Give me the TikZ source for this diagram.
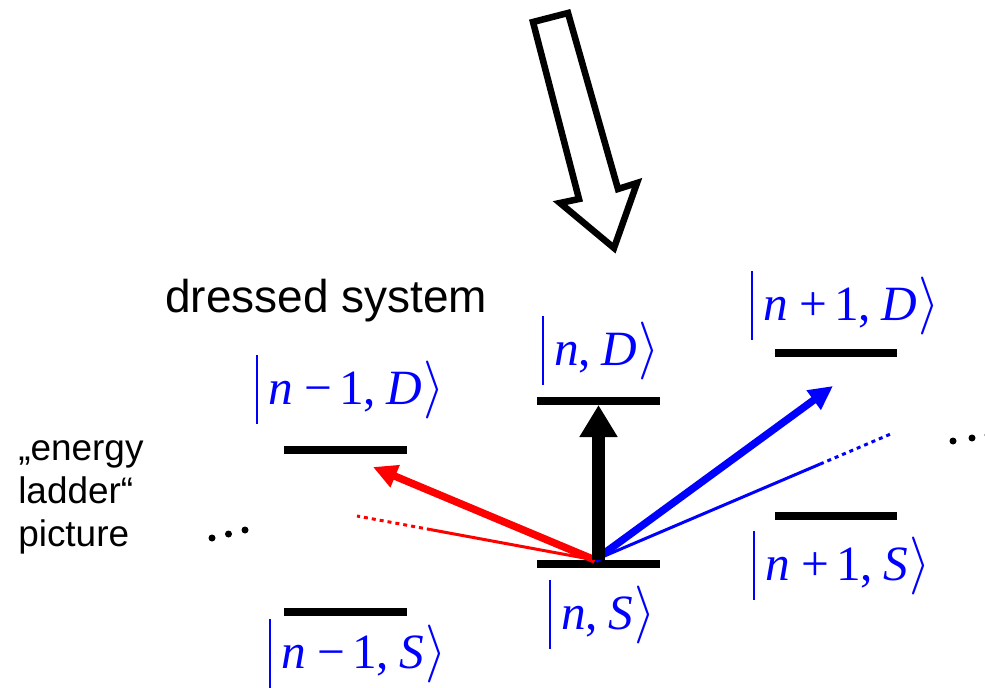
\RequirePackage{fix-cm}
\documentclass[tikz,border=0pt]{standalone}
\usepackage{graphicx}
\usepackage{fontspec}
\setmainfont{Liberation Serif}
\newfontfamily\arialf{Liberation Sans}
\usetikzlibrary{arrows.meta,calc}
\delimiterfactor=1000
\delimitershortfall=0pt
\newcommand\kbar{\rule[-15pt]{1.5pt}{51.75pt}}
\newcommand\kang{\scalebox{1.1}[1.175]{$\left.\vcenter{\hrule height 44pt width 0pt}\right\rangle$}}
\newcommand\kt[1]{{\fontsize{37}{42}\selectfont\kbar\hspace{0.2em}#1\hspace{0em}\kang}}
\newcommand\op[1]{\hspace{0.24em}#1\hspace{0.14em}}
\newcommand\cm{,\hspace{0.2em}}
\begin{document}
\begin{tikzpicture}[x=0.75pt,y=-0.75pt,
  levelbar/.style={fill=black,inner sep=0pt,minimum width=92pt,minimum height=5.6pt},
  ketlabel/.style={anchor=base west,inner sep=0pt,text=blue},
  sanstext/.style={anchor=base west,inner sep=0pt,font=\arialf\fontsize{27.7}{32}\selectfont},
  dotmark/.style={fill=black}
]
\useasboundingbox (0,0) rectangle (985,688);
% hollow arrow
\draw[line width=4.9pt,line join=miter,fill=white]
  (533,22) -- (568,13) -- (618,189) -- (637,183) -- (614,248) -- (560,203) -- (579,199) -- cycle;
% levels
\node[levelbar] (m1D) at (345.5,450) {};
\node[levelbar] (m1S) at (345.5,612) {};
\node[levelbar] (nD) at (598.5,401) {};
\node[levelbar] (nS) at (598.5,564) {};
\node[levelbar] (p1D) at (836,353) {};
\node[levelbar] (p1S) at (836,516) {};
% coordinates for fan
\coordinate (o) at (595,560);
\coordinate (rt) at (373,467);
\coordinate (rd) at (357,516);
\coordinate (rs) at ($(o)!0.69!(rd)$);
\coordinate (bt) at (833,386);
\coordinate (bd) at (893,433);
\coordinate (bs) at ($(o)!0.755!(bd)$);
% red
\draw[red,line width=2.25pt] (o) -- (rs);
\draw[red,line width=2.25pt,dash pattern=on 3pt off 3pt] (rs) -- (rd);
\draw[red,line width=5.6pt,-{Triangle[length=18pt,width=17pt]}] (o) -- (rt);
% blue
\draw[blue,line width=2.25pt] (o) -- (bs);
\draw[blue,line width=2.25pt,dash pattern=on 3pt off 3pt] (bs) -- (bd);
\draw[blue,line width=5.6pt,-{Triangle[length=18pt,width=17pt]}] (o) -- (bt);
% black
\draw[line width=9.5pt,-{Triangle[length=24pt,width=27pt]}] (nS.north) -- (nD.south);
% labels
\node[ketlabel] (lm1D) at (256,404) {\kt{\textit{n}\op{−}1\cm\textit{D}}};
\node[ketlabel] (lm1S) at (269,668) {\kt{\textit{n}\op{−}1\cm\textit{S}}};
\node[ketlabel] (lnD) at (542,365) {\kt{\textit{n}\cm\textit{D}}};
\node[ketlabel] (lnS) at (549,629) {\kt{\textit{n}\cm\textit{S}}};
\node[ketlabel] (lp1D) at (751,320) {\kt{\textit{n}\op{+}1\cm\textit{D}}};
\node[ketlabel] (lp1S) at (753,580) {\kt{\textit{n}\op{+}1\cm\textit{S}}};
% texts
\node[anchor=base west,inner sep=0pt,font=\arialf\fontsize{34.5}{40}\selectfont] (title) at (165,312) {dressed system};
\node[sanstext] (e1) at (18,460) {„energy};
\node[sanstext] (e2) at (18,503) {ladder“};
\node[sanstext] (e3) at (18,546) {picture};
% dots
\fill[dotmark] (212,538) circle (3.5);
\fill[dotmark] (228.5,534) circle (3.5);
\fill[dotmark] (245,530) circle (3.5);
\fill[dotmark] (953,441) circle (3.5);
\fill[dotmark] (972,438) circle (3.5);
\fill[dotmark] (988,435) circle (3.5);
\end{tikzpicture}
\end{document}
